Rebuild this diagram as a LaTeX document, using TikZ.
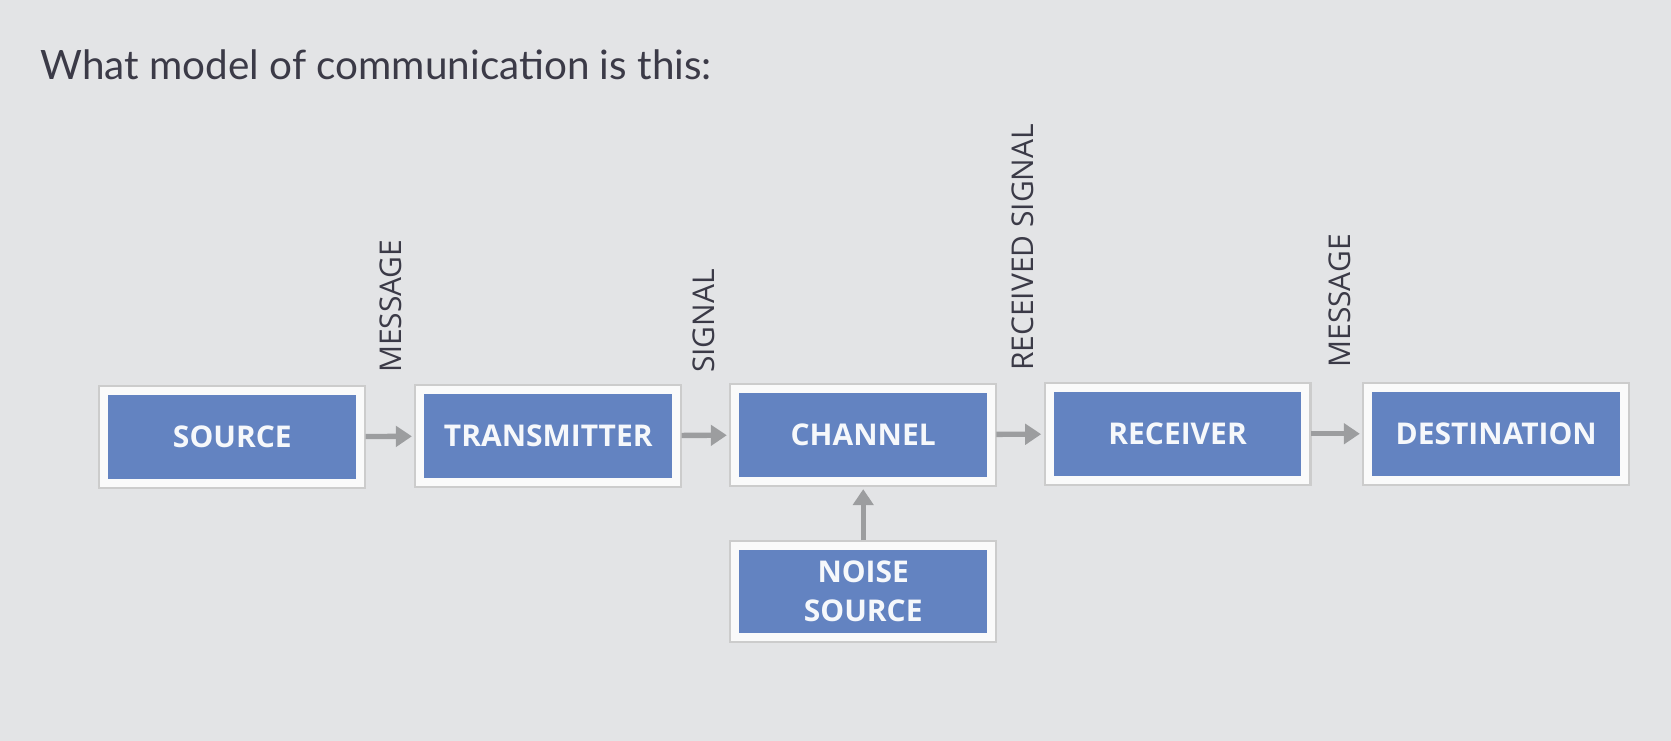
\documentclass[tikz,border=0pt]{standalone}
\usepackage{fontspec}
\setmainfont{Open Sans}
\newfontfamily\titlefont{Lato}
\usetikzlibrary{arrows.meta}
\definecolor{bgcol}{HTML}{E3E4E6}
\definecolor{boxblue}{HTML}{6383C1}
\definecolor{flowgray}{HTML}{9C9D9F}
\definecolor{labelink}{HTML}{3B3A47}
\begin{document}
\begin{tikzpicture}[inner sep=0pt,outer sep=0pt,
block/.style={rectangle,fill=boxblue,draw=white!96!gray,line width=0.075cm,
  preaction={draw=gray!40,line width=0.115cm},
  minimum width=2.4cm,minimum height=0.86cm,align=center,
  text=white!94!boxblue,font=\bfseries\fontsize{8}{10.5}\selectfont},
vlabel/.style={rotate=90,anchor=west,text=labelink,font=\fontsize{8}{10}\selectfont},
flow/.style={draw=flowgray,line width=0.05cm,-{Triangle[width=0.19cm,length=0.15cm]},shorten >=0.08cm,shorten <=0.05cm}]
\fill[bgcol] (0,0) rectangle (15.68,6.95);
\useasboundingbox (0,0) rectangle (15.68,6.95);
\draw (0.38,6.20) node[anchor=base west,text=labelink,font=\titlefont\fontsize{10.8}{13}\selectfont] (question) {What model of communication is this:};
% the boxes
\draw (2.18,2.85) node[block] (src) {SOURCE};
\draw (5.145,2.86) node[block] (trans) {TRANSMITTER};
\draw (8.10,2.87) node[block] (chan) {CHANNEL};
\draw (11.05,2.88) node[block] (recv) {RECEIVER};
\draw (14.04,2.88) node[block] (dest) {DESTINATION};
\draw (8.10,1.40) node[block] (noise) {NOISE\\SOURCE};
% labels above the arrows
\draw (3.67,3.45) node[vlabel] (msg1) {MESSAGE};
\draw (6.60,3.45) node[vlabel] (sig) {SIGNAL};
\draw (9.60,3.47) node[vlabel] (rsig) {RECEIVED SIGNAL};
\draw (12.57,3.50) node[vlabel] (msg2) {MESSAGE};
\draw[flow] (src) -- (trans);
\draw[flow] (trans) -- (chan);
\draw[flow] (chan) -- (recv);
\draw[flow] (recv) -- (dest);
\draw[flow] (noise) -- (chan);
\end{tikzpicture}
\end{document}
